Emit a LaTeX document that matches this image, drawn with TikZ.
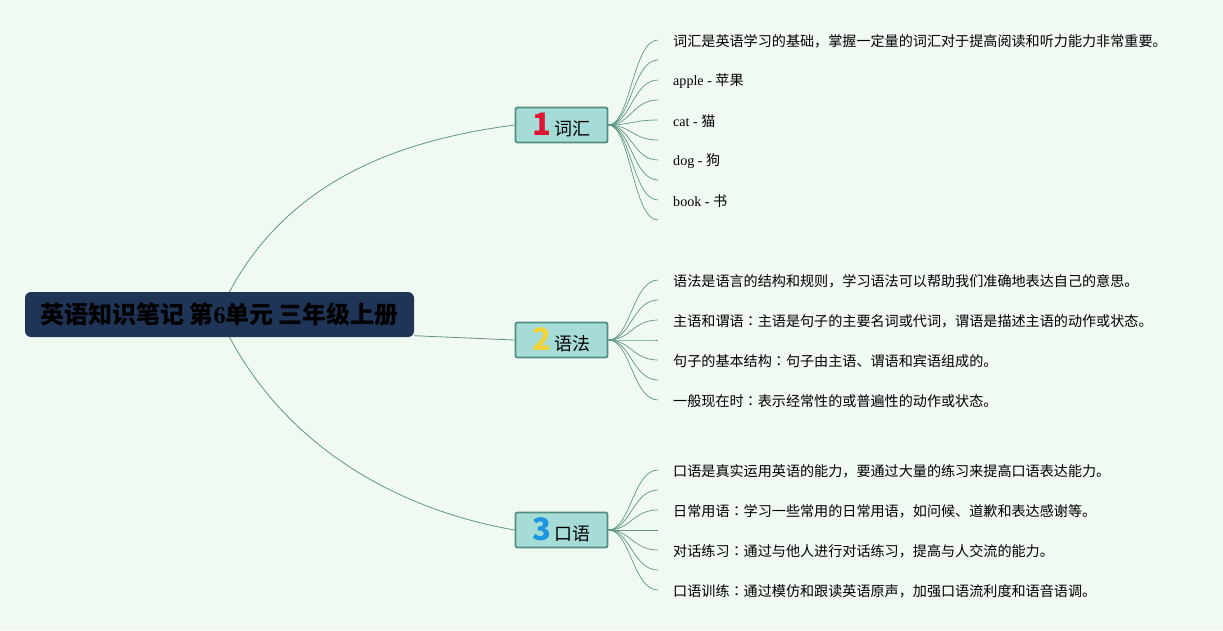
\documentclass[tikz,border=0pt]{standalone}
\usepackage{fontspec}
\setmainfont{Liberation Serif}
\newfontfamily\cjk{Noto Sans CJK SC}
\newfontfamily\cjkjp{Noto Sans CJK JP}
\usetikzlibrary{positioning,calc}
\definecolor{bgmint}{RGB}{240,250,242}
\definecolor{rootblue}{RGB}{30,53,87}
\definecolor{topicfill}{RGB}{166,220,216}
\definecolor{topicedge}{RGB}{82,142,126}
\definecolor{linkgreen}{RGB}{95,150,130}
\definecolor{numred}{RGB}{222,22,52}
\definecolor{numyellow}{RGB}{242,212,60}
\definecolor{numblue}{RGB}{28,150,222}
\newcommand{\topicnum}[2]{{\color{#1}\cjk\bfseries\fontsize{31}{31}\selectfont #2}}
\newcommand{\colonjp}{{\cjkjp ：}}
\tikzset{
  root/.style={fill=rootblue, rounded corners=6pt, minimum width=389pt,
    minimum height=45pt, inner sep=0pt, text=black},
  topic/.style={draw=topicedge, line width=1.8pt, fill=topicfill, rounded corners=2pt,
    minimum width=92pt, minimum height=35pt, inner sep=0pt},
  leaf/.style={anchor=west, inner sep=0pt, font=\fontsize{14.1}{16}\selectfont},
  link/.style={draw=linkgreen, line width=0.8pt},
  twig/.style={draw=linkgreen, line width=0.7pt},
}

\begin{document}
\begin{tikzpicture}[x=1pt,y=-1pt]
\fill[bgmint] (0,0) rectangle (1223,630);
\useasboundingbox (0,0) rectangle (1223,630);
% root
\node[root] (root) at (219.5,314.5)
  {\fontsize{24}{26}\selectfont{\cjk\bfseries 英语知识笔记 第}{\bfseries 6}{\cjk\bfseries 单元 三年级上册}};
% topics
\node[topic] (vocab) at (561.5,125) {\topicnum{numred}{1}\hspace{4pt}{\cjk\fontsize{18}{20}\selectfont 词汇}};
\node[topic] (gram) at (561.5,340) {\topicnum{numyellow}{2}\hspace{4pt}{\cjk\fontsize{18}{20}\selectfont 语法}};
\node[topic] (speak) at (561.5,530) {\topicnum{numblue}{3}\hspace{4pt}{\cjk\fontsize{18}{20}\selectfont 口语}};
\draw[link] ([xshift=10pt]root.north) .. controls +(60,-112) and +(-115,15) .. (vocab.west);
\draw[link] ([yshift=1.5pt]root.south east) -- (gram.west);
\draw[link] ([xshift=10pt]root.south) .. controls +(60,112) and +(-115,-20) .. (speak.west);
% leaves
\node[leaf] (v1) at (673,41.5) {\cjk 词汇是英语学习的基础，掌握一定量的词汇对于提高阅读和听力能力非常重要。};
\node[leaf] (v2) at (673,81.5) {apple - {\cjk 苹果}};
\node[leaf] (v3) at (673,121.5) {cat - {\cjk 猫}};
\node[leaf] (v4) at (673,161.5) {dog - {\cjk 狗}};
\node[leaf] (v5) at (673,201.5) {book - {\cjk 书}};
\node[leaf] (g1) at (673,281.5) {\cjk 语法是语言的结构和规则，学习语法可以帮助我们准确地表达自己的意思。};
\node[leaf] (g2) at (673,321.5) {\cjk 主语和谓语\colonjp 主语是句子的主要名词或代词，谓语是描述主语的动作或状态。};
\node[leaf] (g3) at (673,361.5) {\cjk 句子的基本结构\colonjp 句子由主语、谓语和宾语组成的。};
\node[leaf] (g4) at (673,401.5) {\cjk 一般现在时\colonjp 表示经常性的或普遍性的动作或状态。};
\node[leaf] (s1) at (673,471.5) {\cjk 口语是真实运用英语的能力，要通过大量的练习来提高口语表达能力。};
\node[leaf] (s2) at (673,511.5) {\cjk 日常用语\colonjp 学习一些常用的日常用语，如问候、道歉和表达感谢等。};
\node[leaf] (s3) at (673,551.5) {\cjk 对话练习\colonjp 通过与他人进行对话练习，提高与人交流的能力。};
\node[leaf] (s4) at (673,591.5) {\cjk 口语训练\colonjp 通过模仿和跟读英语原声，加强口语流利度和语音语调。};
% fans
\foreach \y [count=\i] in {40,60,...,220} {
  \coordinate (vocab-end-\i) at (658,\y);
  \draw[twig] (vocab.east) .. controls +(22,0) and +(-25,0) .. (vocab-end-\i);
}
\foreach \y [count=\i] in {280,300,...,400} {
  \coordinate (gram-end-\i) at (658,\y);
  \draw[twig] (gram.east) .. controls +(22,0) and +(-25,0) .. (gram-end-\i);
}
\foreach \y [count=\i] in {470,490,...,590} {
  \coordinate (speak-end-\i) at (658,\y);
  \draw[twig] (speak.east) .. controls +(22,0) and +(-25,0) .. (speak-end-\i);
}
\end{tikzpicture}
\end{document}
